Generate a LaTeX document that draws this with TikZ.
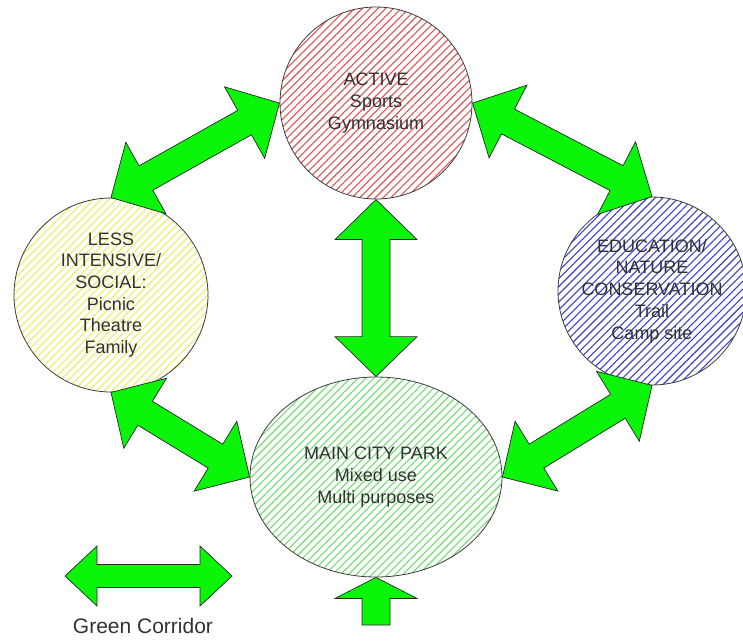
\documentclass[tikz,border=0pt]{standalone}
\usepackage{fontspec}
\setmainfont{Liberation Sans}
\usetikzlibrary{calc,shapes.geometric,patterns.meta}
\definecolor{hatchred}{RGB}{226,80,80}
\definecolor{hatchyellow}{RGB}{238,236,96}
\definecolor{hatchblue}{RGB}{60,60,205}
\definecolor{hatchgreen}{RGB}{110,222,110}
\definecolor{corrgreen}{RGB}{10,245,10}
\definecolor{ringgray}{RGB}{60,60,60}
\definecolor{labelgray}{RGB}{50,50,50}
% double corridor between two tips: #3 head length, #4 half head, #5 half shaft
\newcommand\greenway[5]{%
  \filldraw[corridor] (#1)
    -- ($(#1)!#3!(#2)!#4!90:(#2)$)
    -- ($(#1)!#3!(#2)!#5!90:(#2)$)
    -- ($(#2)!#3!(#1)!#5!-90:(#1)$)
    -- ($(#2)!#3!(#1)!#4!-90:(#1)$)
    -- (#2)
    -- ($(#2)!#3!(#1)!#4!90:(#1)$)
    -- ($(#2)!#3!(#1)!#5!90:(#1)$)
    -- ($(#1)!#3!(#2)!#5!-90:(#2)$)
    -- ($(#1)!#3!(#2)!#4!-90:(#2)$)
    -- cycle;}

\begin{document}
\begin{tikzpicture}[x=1pt,y=-1pt,
  zone/.style={draw=ringgray,line width=0.8pt,inner sep=0pt,align=center,
    text=labelgray,font=\fontsize{18}{21.7}\selectfont},
  hatch/.style={pattern={Lines[angle=45,distance=5.5pt,line width=1.1pt]},pattern color=#1},
  corridor/.style={fill=corrgreen,draw=black!85,line width=0.7pt,line join=miter}]
  \useasboundingbox (0,0) rectangle (743,643);

  \node[zone,circle,minimum size=192pt,hatch=hatchred] (active) at (376,103)
    {ACTIVE\\Sports\\Gymnasium};
  \node[zone,circle,minimum size=194pt,hatch=hatchyellow] (social) at (111,295)
    {LESS\\INTENSIVE/\\SOCIAL:\\Picnic\\Theatre\\Family};
  \node[zone,circle,minimum size=188pt,hatch=hatchblue] (nature) at (652,291)
    {EDUCATION/\\NATURE\\CONSERVATION\\Trail\\Camp site};
  \node[zone,ellipse,minimum width=252pt,minimum height=200pt,hatch=hatchgreen] (park) at (376,477)
    {MAIN CITY PARK\\Mixed use\\Multi purposes};

  \greenway{social.north}{active.west}{40pt}{41pt}{14pt}
  \greenway{active.east}{nature.north}{40pt}{41pt}{14pt}
  \greenway{active.south}{park.north}{40pt}{41pt}{14pt}
  \greenway{social.south}{park.west}{40pt}{41pt}{14pt}
  \greenway{nature.south}{park.east}{40pt}{41pt}{14pt}

  % entry into the park
  \coordinate (gate) at (376,625);
  \filldraw[corridor] (park.south)
    -- ($(park.south)!21pt!(gate)!41pt!90:(gate)$)
    -- ($(park.south)!21pt!(gate)!14pt!90:(gate)$)
    -- ($(gate)!14pt!-90:(park.south)$)
    -- ($(gate)!14pt!90:(park.south)$)
    -- ($(park.south)!21pt!(gate)!14pt!-90:(gate)$)
    -- ($(park.south)!21pt!(gate)!41pt!-90:(gate)$)
    -- cycle;

  % legend
  \coordinate (legL) at (65,576);
  \coordinate (legR) at (232,576);
  \greenway{legL}{legR}{32pt}{30pt}{11.5pt}
  \node[text=labelgray,font=\fontsize{21}{25}\selectfont] (legtext) at (143,626) {Green Corridor};
\end{tikzpicture}
\end{document}
